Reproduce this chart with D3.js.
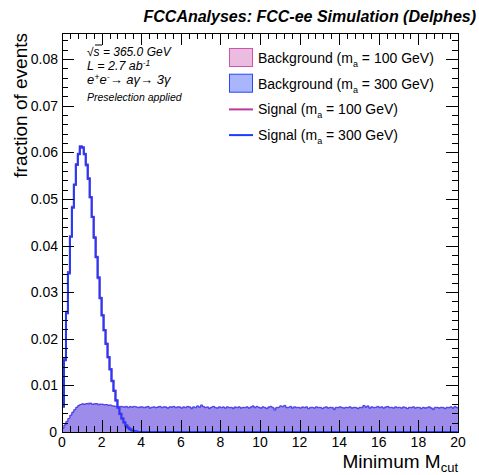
<!DOCTYPE html>
<html>
<head>
<meta charset="utf-8">
<script src="https://cdn.jsdelivr.net/npm/d3@7"></script>
<style>
  html, body { margin: 0; padding: 0; background: #fff; }
  svg { display: block; font-family: "Liberation Sans", Arial, Helvetica, sans-serif; }
</style>
</head>
<body>
<svg id="chart" width="479" height="475"></svg>
<script>
// ---------------- DATA ----------------
const binWidth = 0.1;
const xTicks = [0, 2, 4, 6, 8, 10, 12, 14, 16, 18, 20];
const yTicks = [0, 0.01, 0.02, 0.03, 0.04, 0.05, 0.06, 0.07, 0.08];

// Background, m_a = 100 GeV (200 bins of 0.1)
const bg100 = [
  0.0008, 0.0015, 0.0023, 0.0029, 0.0036, 0.0043, 0.0048, 0.0053, 0.0056, 0.0059,
  0.0061, 0.0060, 0.0060, 0.0062, 0.0061, 0.0060, 0.0061, 0.0059, 0.0060, 0.0059,
  0.0060, 0.0059, 0.0058, 0.0058, 0.0057, 0.0056, 0.0056, 0.0054, 0.0055, 0.0054,
  0.0055, 0.0054, 0.0054, 0.0053, 0.0055, 0.0054, 0.0054, 0.0053, 0.0053, 0.0054,
  0.0053, 0.0053, 0.0054, 0.0054, 0.0052, 0.0053, 0.0053, 0.0053, 0.0054, 0.0054,
  0.0053, 0.0053, 0.0054, 0.0052, 0.0053, 0.0054, 0.0054, 0.0053, 0.0053, 0.0054,
  0.0052, 0.0053, 0.0053, 0.0054, 0.0054, 0.0052, 0.0053, 0.0053, 0.0055, 0.0054,
  0.0056, 0.0055, 0.0053, 0.0054, 0.0052, 0.0053, 0.0054, 0.0053, 0.0052, 0.0053,
  0.0053, 0.0054, 0.0052, 0.0053, 0.0053, 0.0052, 0.0052, 0.0054, 0.0053, 0.0053,
  0.0052, 0.0052, 0.0053, 0.0053, 0.0052, 0.0054, 0.0055, 0.0053, 0.0054, 0.0052,
  0.0052, 0.0053, 0.0053, 0.0051, 0.0054, 0.0054, 0.0053, 0.0050, 0.0053, 0.0052,
  0.0055, 0.0055, 0.0056, 0.0053, 0.0052, 0.0054, 0.0052, 0.0053, 0.0053, 0.0052,
  0.0052, 0.0054, 0.0053, 0.0053, 0.0051, 0.0053, 0.0052, 0.0052, 0.0053, 0.0053,
  0.0052, 0.0051, 0.0053, 0.0053, 0.0052, 0.0052, 0.0053, 0.0050, 0.0052, 0.0053,
  0.0053, 0.0053, 0.0052, 0.0052, 0.0053, 0.0053, 0.0052, 0.0052, 0.0053, 0.0051,
  0.0052, 0.0053, 0.0056, 0.0054, 0.0055, 0.0052, 0.0053, 0.0053, 0.0052, 0.0054,
  0.0053, 0.0053, 0.0052, 0.0054, 0.0054, 0.0053, 0.0052, 0.0052, 0.0053, 0.0053,
  0.0052, 0.0052, 0.0054, 0.0053, 0.0051, 0.0052, 0.0053, 0.0053, 0.0052, 0.0052,
  0.0053, 0.0051, 0.0052, 0.0052, 0.0053, 0.0053, 0.0052, 0.0050, 0.0053, 0.0052,
  0.0052, 0.0052, 0.0053, 0.0051, 0.0052, 0.0053, 0.0053, 0.0052, 0.0054, 0.0053
];

// Background, m_a = 300 GeV
const bg300 = [
  0.0008, 0.0015, 0.0022, 0.0029, 0.0036, 0.0042, 0.0048, 0.0053, 0.0057, 0.0059,
  0.0060, 0.0059, 0.0061, 0.0060, 0.0062, 0.0059, 0.0060, 0.0061, 0.0058, 0.0060,
  0.0059, 0.0058, 0.0059, 0.0057, 0.0058, 0.0056, 0.0055, 0.0055, 0.0054, 0.0055,
  0.0054, 0.0053, 0.0055, 0.0052, 0.0054, 0.0053, 0.0055, 0.0054, 0.0052, 0.0053,
  0.0054, 0.0052, 0.0053, 0.0055, 0.0051, 0.0053, 0.0054, 0.0052, 0.0053, 0.0055,
  0.0052, 0.0054, 0.0053, 0.0051, 0.0054, 0.0053, 0.0055, 0.0052, 0.0054, 0.0053,
  0.0051, 0.0054, 0.0052, 0.0055, 0.0053, 0.0050, 0.0054, 0.0052, 0.0056, 0.0053,
  0.0058, 0.0054, 0.0052, 0.0053, 0.0050, 0.0053, 0.0055, 0.0052, 0.0051, 0.0054,
  0.0052, 0.0053, 0.0051, 0.0054, 0.0052, 0.0053, 0.0050, 0.0053, 0.0052, 0.0054,
  0.0051, 0.0053, 0.0052, 0.0054, 0.0051, 0.0053, 0.0056, 0.0052, 0.0055, 0.0053,
  0.0051, 0.0054, 0.0052, 0.0050, 0.0053, 0.0055, 0.0052, 0.0047, 0.0052, 0.0053,
  0.0056, 0.0054, 0.0057, 0.0052, 0.0053, 0.0055, 0.0051, 0.0054, 0.0052, 0.0053,
  0.0051, 0.0053, 0.0052, 0.0054, 0.0050, 0.0052, 0.0053, 0.0051, 0.0054, 0.0052,
  0.0053, 0.0050, 0.0052, 0.0054, 0.0051, 0.0053, 0.0052, 0.0048, 0.0053, 0.0052,
  0.0054, 0.0052, 0.0051, 0.0053, 0.0052, 0.0054, 0.0051, 0.0053, 0.0052, 0.0050,
  0.0053, 0.0052, 0.0057, 0.0053, 0.0056, 0.0051, 0.0054, 0.0052, 0.0053, 0.0055,
  0.0052, 0.0054, 0.0051, 0.0053, 0.0055, 0.0052, 0.0053, 0.0051, 0.0054, 0.0052,
  0.0053, 0.0051, 0.0053, 0.0052, 0.0050, 0.0053, 0.0052, 0.0054, 0.0051, 0.0053,
  0.0052, 0.0050, 0.0053, 0.0051, 0.0052, 0.0054, 0.0051, 0.0048, 0.0052, 0.0053,
  0.0051, 0.0053, 0.0052, 0.0050, 0.0053, 0.0052, 0.0054, 0.0051, 0.0055, 0.0052
];

// Signals (first 40 bins; all later bins are empty)
const sig100 = [
  0.0056, 0.0158, 0.0258, 0.0343, 0.0420, 0.0483, 0.0530, 0.0575, 0.0597, 0.0613,
  0.0610, 0.0597, 0.0572, 0.0545, 0.0503, 0.0462, 0.0416, 0.0376, 0.0330, 0.0288,
  0.0251, 0.0218, 0.0190, 0.0160, 0.0135, 0.0109, 0.0089, 0.0067, 0.0053, 0.0038,
  0.0029, 0.0020, 0.0014, 0.0010, 0.0006, 0.0004, 0.0002, 0.0001, 0.0000, 0.0000
];
const sig300 = [
  0.0054, 0.0154, 0.0255, 0.0340, 0.0419, 0.0481, 0.0531, 0.0573, 0.0596, 0.0612,
  0.0611, 0.0596, 0.0574, 0.0543, 0.0504, 0.0461, 0.0418, 0.0375, 0.0332, 0.0287,
  0.0250, 0.0219, 0.0189, 0.0161, 0.0134, 0.0110, 0.0088, 0.0068, 0.0052, 0.0039,
  0.0029, 0.0021, 0.0014, 0.0009, 0.0006, 0.0003, 0.0002, 0.0001, 0.0000, 0.0000
];

const legendLabels = [
  { kind: "box", text: "Background (m", sub: "a", rest: " = 100 GeV)", key: "bg100" },
  { kind: "box", text: "Background (m", sub: "a", rest: " = 300 GeV)", key: "bg300" },
  { kind: "line", text: "Signal (m", sub: "a", rest: " = 100 GeV)", key: "sig100" },
  { kind: "line", text: "Signal (m", sub: "a", rest: " = 300 GeV)", key: "sig300" }
];

// ---------------- STYLE ----------------
const colors = {
  bg100: { fill: "rgba(204,85,178,0.40)", stroke: "#cc55b2" },
  bg300: { fill: "rgba(40,70,250,0.40)", stroke: "#2846fa" },
  sig100: { stroke: "#c0389e" },
  sig300: { stroke: "#1f3cff" }
};

const svg = d3.select("#chart");
const m = { left: 62, right: 458, top: 33, bottom: 432 };
const x = d3.scaleLinear().domain([0, 20]).range([m.left, m.right]);
const y = d3.scaleLinear().domain([0, 0.0856]).range([m.bottom, m.top]);

function toPoints(arr, closeToZero) {
  const pts = arr.map((v, i) => ({ x: i * binWidth, y: v }));
  pts.push({ x: arr.length * binWidth, y: arr[arr.length - 1] });
  if (closeToZero) pts.push({ x: x.domain()[1], y: 0 });
  return pts;
}

svg.append("defs").append("clipPath").attr("id", "clip")
  .append("rect").attr("x", m.left).attr("y", m.top)
  .attr("width", m.right - m.left).attr("height", m.bottom - m.top);

const gPlot = svg.append("g").attr("clip-path", "url(#clip)");

const area = d3.area().x(d => x(d.x)).y0(y(0)).y1(d => y(d.y)).curve(d3.curveStepAfter);
const line = d3.line().x(d => x(d.x)).y(d => y(d.y)).curve(d3.curveStepAfter);

const bgSeries = { bg100, bg300 };
["bg100", "bg300"].forEach(k => {
  gPlot.append("path").attr("d", area(toPoints(bgSeries[k], false)))
    .attr("fill", colors[k].fill).attr("stroke", "none");
});
["bg100", "bg300"].forEach(k => {
  const pts = [{ x: 0, y: 0 }].concat(toPoints(bgSeries[k], false));
  gPlot.append("path").attr("d", line(pts))
    .attr("fill", "none").attr("stroke", colors[k].stroke).attr("stroke-width", 1);
});
const sigSeries = { sig100, sig300 };
["sig100", "sig300"].forEach(k => {
  const pts = [{ x: 0, y: 0 }].concat(toPoints(sigSeries[k], true));
  gPlot.append("path").attr("d", line(pts))
    .attr("fill", "none").attr("stroke", colors[k].stroke).attr("stroke-width", 2);
});

// ---------------- AXES ----------------
const fontTick = 14;
const xMinor = d3.range(0, 20.0001, 0.4);
const yMinor = d3.range(0, 0.0856, 0.002);
const majLen = 12, minLen = 6;

const axG = svg.append("g").attr("stroke", "#000").attr("stroke-width", 1);
xMinor.forEach(v => {
  const isMaj = xTicks.some(t => Math.abs(t - v) < 1e-6);
  const L = isMaj ? majLen : minLen;
  const px = Math.round(x(v)) + 0.5;
  axG.append("line").attr("x1", px).attr("x2", px).attr("y1", m.bottom).attr("y2", m.bottom - L);
  axG.append("line").attr("x1", px).attr("x2", px).attr("y1", m.top).attr("y2", m.top + L);
});
yMinor.forEach(v => {
  const isMaj = yTicks.some(t => Math.abs(t - v) < 1e-6);
  const L = isMaj ? majLen : minLen;
  const py = Math.round(y(v)) + 0.5;
  axG.append("line").attr("y1", py).attr("y2", py).attr("x1", m.left).attr("x2", m.left + L);
  axG.append("line").attr("y1", py).attr("y2", py).attr("x1", m.right).attr("x2", m.right - L);
});
svg.append("rect").attr("x", m.left + 0.5).attr("y", m.top + 0.5)
  .attr("width", m.right - m.left).attr("height", m.bottom - m.top)
  .attr("fill", "none").attr("stroke", "#000").attr("stroke-width", 1);

// tick labels
svg.append("g").selectAll("text").data(xTicks).join("text")
  .attr("x", d => x(d)).attr("y", 446.5)
  .attr("text-anchor", "middle").attr("font-size", fontTick).text(d => d);
svg.append("g").selectAll("text").data(yTicks).join("text")
  .attr("x", d => d === 0 ? 57 : 58).attr("y", d => y(d) + 5)
  .attr("text-anchor", "end").attr("font-size", fontTick)
  .text(d => d === 0 ? "0" : d3.format(".2f")(d));

// axis titles
const xt = svg.append("text").attr("x", m.right).attr("y", 468)
  .attr("text-anchor", "end").attr("font-size", 19);
xt.append("tspan").text("Minimum M");
xt.append("tspan").attr("font-size", 13).attr("dy", 3.5).text("cut");

svg.append("text").attr("transform", `translate(27,${m.top}) rotate(-90)`)
  .attr("text-anchor", "end").attr("font-size", 19).text("fraction of events");

// title
svg.append("text").attr("x", 476).attr("y", 22).attr("text-anchor", "end")
  .attr("font-size", 16).attr("font-weight", "bold").attr("font-style", "italic")
  .text("FCCAnalyses: FCC-ee Simulation (Delphes)");

// info text
const info = svg.append("g").attr("font-style", "italic");
info.append("text").attr("x", 87).attr("y", 55.5).attr("font-size", 12).text("√s = 365.0 GeV");
info.append("line").attr("x1", 95).attr("x2", 102).attr("y1", 45).attr("y2", 45)
  .attr("stroke", "#000").attr("stroke-width", 1);
const t2 = info.append("text").attr("x", 87).attr("y", 70).attr("font-size", 12.5);
t2.append("tspan").text("L = 2.7 ab");
t2.append("tspan").attr("font-size", 8.5).attr("dy", -4).text("-1");
const t3 = info.append("text").attr("x", 87).attr("y", 84).attr("font-size", 13);
t3.append("tspan").text("e");
t3.append("tspan").attr("font-size", 9).attr("dy", -4).text("+");
t3.append("tspan").attr("dy", 4).text("e");
t3.append("tspan").attr("font-size", 9).attr("dy", -4).text("-");
t3.append("tspan").attr("dy", 4).text("→ aγ→ 3γ");
info.append("text").attr("x", 87).attr("y", 101).attr("font-size", 10.5).text("Preselection applied");

// legend
const lg = svg.append("g");
legendLabels.forEach((e, i) => {
  const cy = 58 + i * 25.7;
  if (e.kind === "box") {
    lg.append("rect").attr("x", 229.5).attr("y", cy - 9.5).attr("width", 23).attr("height", 18)
      .attr("fill", colors[e.key].fill).attr("stroke", colors[e.key].stroke).attr("stroke-width", 1);
  } else {
    lg.append("line").attr("x1", 229).attr("x2", 253).attr("y1", cy).attr("y2", cy)
      .attr("stroke", colors[e.key].stroke).attr("stroke-width", 2);
  }
  const t = lg.append("text").attr("x", 258).attr("y", cy + 5).attr("font-size", 14);
  t.append("tspan").text(e.text);
  t.append("tspan").attr("font-size", 9).attr("dy", 4).text(e.sub);
  t.append("tspan").attr("dy", -4).text(e.rest);
});
</script>
</body>
</html>
